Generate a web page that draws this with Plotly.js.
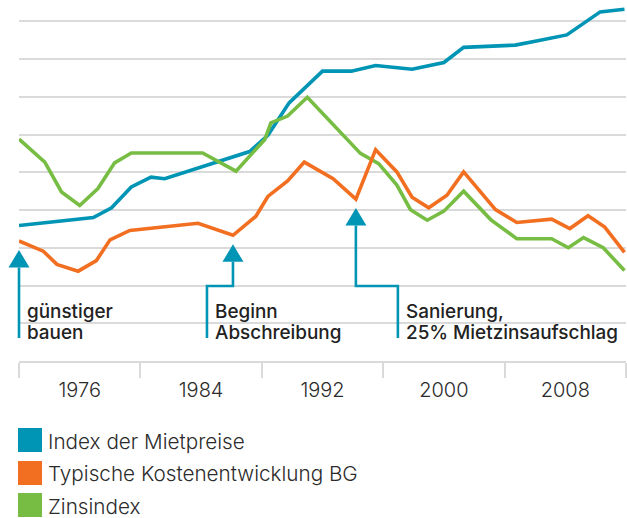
<!DOCTYPE html>
<html><head><meta charset="utf-8">
<script src="https://cdn.plot.ly/plotly-3.0.1.min.js"></script>
<style>html,body{margin:0;padding:0;background:#fff}#chart{width:627px;height:518px}</style>
</head><body><div id="chart"></div>
<script>
// ---- data ----
const yearsMiet = [1972.0,1976.9,1978.1,1979.4,1980.7,1981.6,1987.2,1988.4,1989.8,1992.0,1993.9,1995.5,1997.9,2000.0,2001.3,2004.7,2006.1,2008.1,2010.3,2011.9];
const mietpreise = [35.9,38.0,40.6,46.1,48.7,48.3,55.5,59.8,68.4,76.8,76.8,78.3,77.3,79.1,83.1,83.7,84.8,86.4,92.5,93.2];
const yearsKosten = [1972.0,1973.6,1974.5,1975.9,1977.1,1978.0,1979.3,1983.8,1986.1,1987.6,1988.4,1989.7,1990.8,1992.7,1994.2,1995.5,1996.9,1997.9,1999.0,2000.2,2001.3,2003.4,2004.8,2007.1,2008.3,2009.5,2010.6,2011.9];
const kosten = [31.8,29.1,25.6,23.8,26.6,32.1,34.6,36.5,33.3,38.3,43.6,47.7,52.7,48.3,42.9,56.0,50.1,43.4,40.6,43.9,50.1,40.1,36.7,37.6,35.1,38.5,35.5,28.8];
const yearsZins = [1972.0,1973.7,1974.8,1976.0,1977.2,1978.3,1979.4,1984.1,1986.3,1988.2,1988.6,1989.7,1991.0,1994.5,1995.7,1996.9,1997.8,1998.9,2000.0,2001.3,2003.1,2004.8,2007.1,2008.2,2009.2,2010.5,2011.9];
const zins = [58.8,52.7,44.8,41.2,45.7,52.5,55.1,55.1,50.3,58.7,63.1,64.9,69.9,55.0,52.3,46.6,40.1,37.3,39.7,45.0,37.4,32.4,32.4,30.0,32.7,30.0,24.0];

const tickLabels = ['1976','1984','1992','2000','2008'];
const tickYears = [1976,1984,1992,2000,2008];
const periodBounds = [1972,1980,1988,1996,2004,2012];

const seriesNames = ['Index der Mietpreise','Typische Kostenentwicklung BG','Zinsindex'];
const noteLine1 = ['günstiger','Beginn','Sanierung,'];
const noteLine2 = ['bauen','Abschreibung','25% Mietzinsaufschlag'];
const noteIdx = [0, 8, 14];          // points on the cost series the arrows refer to
const noteElbow = [0, -26, 42];      // horizontal jog of the arrow stem (px)

// ---- styling ----
const C_BLUE = '#0094b5', C_ORANGE = '#f26f21', C_GREEN = '#77bd43';
const GRID = '#dadada';
const W = 627, H = 518, L = 19, R = 1, T = 0, B = 157;
const X0 = 1972, X1 = 2012, YMAX = 95.65;
const PW = W - L - R, PH = H - T - B;
const xpx = yr => L + (yr - X0) / (X1 - X0) * PW;
const ypx = v => T + PH - v / YMAX * PH;
const px2x = p => (p - L) / PW;
const py2y = p => (T + PH - p) / PH;

const FONT_LIGHT = {family: 'Inter, Roboto, "Liberation Sans", sans-serif', size: 20.7, color: '#2b2b2b', weight: 300};
const FONT_TICK = {family: 'Inter, Roboto, "Liberation Sans", sans-serif', size: 20, color: '#2b2b2b', weight: 300};
const FONT_NOTE = {family: 'Inter, Roboto, "Liberation Sans", sans-serif', size: 18.9, color: '#222', weight: 500};

const traces = [
  {x: yearsMiet, y: mietpreise, name: seriesNames[0], mode: 'lines', line: {color: C_BLUE, width: 3.6}, showlegend: false, hoverinfo: 'skip'},
  {x: yearsZins, y: zins, name: seriesNames[2], mode: 'lines', line: {color: C_GREEN, width: 3.6}, showlegend: false, hoverinfo: 'skip'},
  {x: yearsKosten, y: kosten, name: seriesNames[1], mode: 'lines', line: {color: C_ORANGE, width: 3.6}, showlegend: false, hoverinfo: 'skip'}
];

const shapes = [];
const annotations = [];

// arrows with notes
noteIdx.forEach((k, i) => {
  const tx = xpx(yearsKosten[k]);
  const ty = ypx(kosten[k]) + 9;
  const th = 17.5, tw = 10.5;
  const elbowY = 286, endY = 338;
  const sx = tx + noteElbow[i];
  shapes.push({type: 'path', xref: 'paper', yref: 'paper', layer: 'above',
    path: `M${px2x(tx)},${py2y(ty)} L${px2x(tx - tw)},${py2y(ty + th)} L${px2x(tx + tw)},${py2y(ty + th)} Z`,
    fillcolor: C_BLUE, line: {width: 0}});
  let p = `M${px2x(tx)},${py2y(ty + th)} L${px2x(tx)},${py2y(elbowY)} L${px2x(sx)},${py2y(elbowY)} L${px2x(sx)},${py2y(endY)}`;
  if (noteElbow[i] === 0) p = `M${px2x(tx)},${py2y(ty + th)} L${px2x(tx)},${py2y(endY)}`;
  shapes.push({type: 'path', xref: 'paper', yref: 'paper', layer: 'above', path: p,
    line: {color: C_BLUE, width: 2.6}});
  [noteLine1[i], noteLine2[i]].forEach((t, j) => {
    annotations.push({xref: 'paper', yref: 'paper', x: px2x(sx + 6), y: py2y(311 + j * 21.6),
      xanchor: 'left', yanchor: 'middle', align: 'left', showarrow: false,
      text: t, font: FONT_NOTE});
  });
});

// legend (manual, square swatches)
const legendColors = [C_BLUE, C_ORANGE, C_GREEN];
const legendRowY = [440, 473, 505];
seriesNames.forEach((n, i) => {
  const cy = legendRowY[i];
  shapes.push({type: 'rect', xref: 'paper', yref: 'paper', layer: 'above',
    x0: px2x(18), x1: px2x(42), y0: py2y(cy - 12), y1: py2y(cy + 12),
    fillcolor: legendColors[i], line: {width: 0}});
  annotations.push({xref: 'paper', yref: 'paper', x: px2x(46), y: py2y(cy + 1),
    xanchor: 'left', yanchor: 'middle', showarrow: false, text: n, font: FONT_LIGHT});
});

const layout = {
  width: W, height: H,
  margin: {l: L, r: R, t: T, b: B, pad: 0},
  paper_bgcolor: '#fff', plot_bgcolor: '#fff',
  showlegend: false,
  xaxis: {
    range: [X0, X1], showgrid: false, zeroline: false,
    tickmode: 'array', tickvals: tickYears, ticktext: tickLabels,
    ticks: '', ticklabelstandoff: 10,
    tickfont: FONT_TICK,
    showline: true, linecolor: GRID, linewidth: 2,
    minor: {tickmode: 'array', tickvals: periodBounds, ticks: 'outside', ticklen: 15, tickwidth: 2, tickcolor: GRID, showgrid: false},
    fixedrange: true
  },
  yaxis: {
    range: [0, YMAX], tick0: 0, dtick: 10, showticklabels: false, ticks: '',
    showgrid: true, gridcolor: GRID, gridwidth: 2, zeroline: false, showline: false,
    fixedrange: true
  },
  shapes: shapes,
  annotations: annotations
};

Plotly.newPlot('chart', traces, layout, {displayModeBar: false, staticPlot: true});
</script></body></html>
